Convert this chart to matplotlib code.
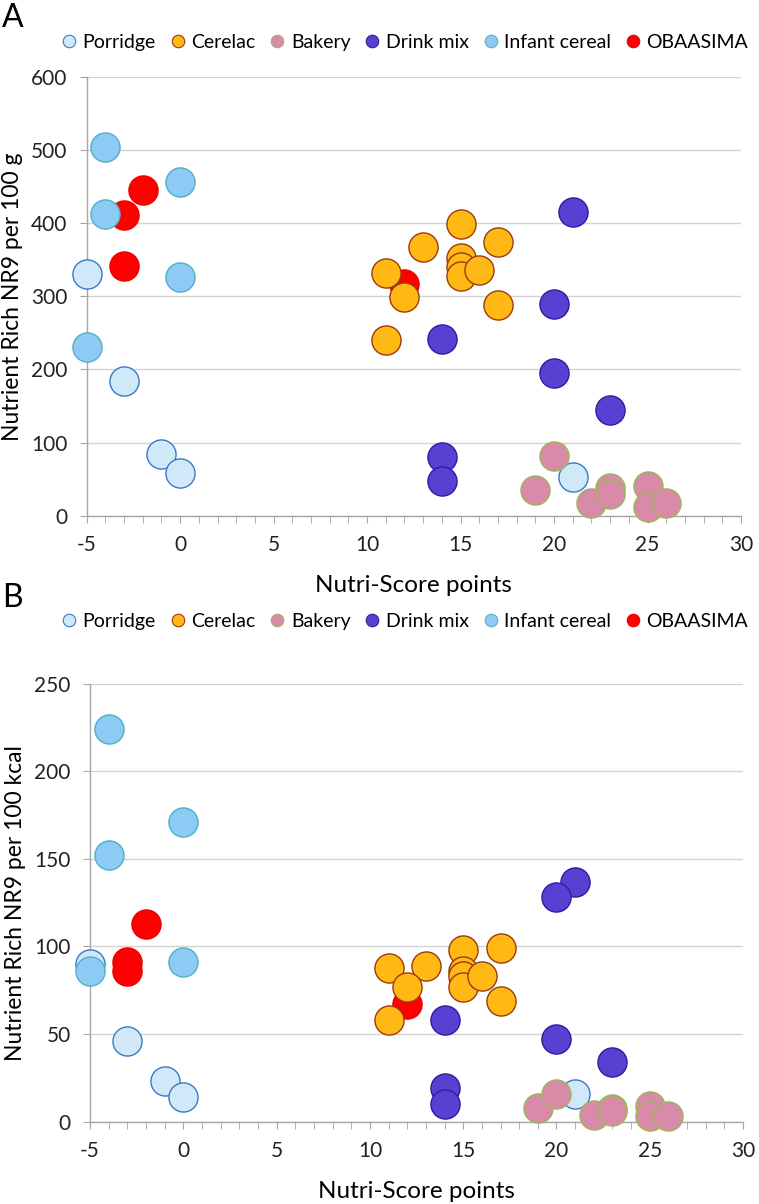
import matplotlib
matplotlib.use("Agg")
import matplotlib.pyplot as plt
from matplotlib.ticker import MultipleLocator

plt.rcParams['font.family'] = ['Lato', 'DejaVu Sans']
plt.rcParams['axes.unicode_minus'] = False

categories = ["Porridge", "Cerelac", "Bakery", "Drink mix", "Infant cereal", "OBAASIMA"]

# Nutri-Score points (shared by both panels)
porridge_x = [-5, -3, -1, 0, 21]
cerelac_x = [15, 13, 17, 11, 15, 15, 15, 16, 12, 17, 11]
bakery_x = [19, 20, 22, 23, 23, 25, 25, 26]
drink_x = [21, 20, 14, 20, 23, 14, 14]
infant_x = [-4, 0, -4, 0, -5]
obaasima_x = [-2, -3, -3, 12]

# Panel A: NR9 per 100 g
porridge_a = [331, 184, 84, 59, 53]
cerelac_a = [399, 367, 374, 332, 352, 340, 328, 336, 299, 288, 240]
bakery_a = [35, 82, 18, 38, 29, 40, 12, 17]
drink_a = [415, 290, 241, 195, 145, 80, 48]
infant_a = [505, 457, 413, 327, 231]
obaasima_a = [446, 411, 341, 317]

# Panel B: NR9 per 100 kcal
porridge_b = [90, 46, 23, 14, 16]
cerelac_b = [98, 89, 99, 88, 86, 83, 77, 83, 77, 69, 58]
bakery_b = [8, 16, 4, 7, 6, 9, 3, 3]
drink_b = [137, 128, 58, 47, 34, 19, 10]
infant_b = [224, 171, 152, 91, 86]
obaasima_b = [113, 91, 86, 67]

styles = {
    "Porridge": dict(fc="#CFE9F8", ec="#3A78C8", z=3),
    "Cerelac": dict(fc="#FFB814", ec="#9C3A0C", z=4),
    "Bakery": dict(fc="#DA8AA9", ec="#9DB65A", z=5),
    "Drink mix": dict(fc="#5A40D2", ec="#2A1E9E", z=6),
    "Infant cereal": dict(fc="#8ECBF4", ec="#4FB0C8", z=7),
    "OBAASIMA": dict(fc="#FF0000", ec="#F00000", z=2),
}

fig = plt.figure(figsize=(7.59, 12.04), dpi=100)
axA = fig.add_axes([0.1142, 0.5717, 0.8621, 0.3643])
axB = fig.add_axes([0.1186, 0.0684, 0.8604, 0.3637])

def draw(ax, xs, ys, ymax, ystep, ylabel):
    for name, x, y in zip(categories, xs, ys):
        st = styles[name]
        ax.scatter(x, y, s=440, facecolor=st["fc"], edgecolor=st["ec"],
                   linewidth=1.0, zorder=st["z"], clip_on=False, label=name)
    ax.set_xlim(-5, 30)
    ax.set_ylim(0, ymax)
    ax.xaxis.set_major_locator(MultipleLocator(5))
    ax.xaxis.set_minor_locator(MultipleLocator(1))
    ax.yaxis.set_major_locator(MultipleLocator(ystep))
    for s in ["top", "right"]:
        ax.spines[s].set_visible(False)
    for s in ["left", "bottom"]:
        ax.spines[s].set_color("#A6A6A6")
        ax.spines[s].set_linewidth(1.0)
    ax.grid(axis="y", color="#D3D3D3", linewidth=1.0, zorder=0)
    ax.set_axisbelow(True)
    ax.tick_params(axis="both", which="both", direction="out", color="#A6A6A6",
                   labelsize=15, labelcolor="#222222")
    ax.tick_params(axis="x", which="major", length=5, pad=9)
    ax.tick_params(axis="x", which="minor", length=5)
    ax.tick_params(axis="y", length=5, pad=9)
    ax.set_xlabel("Nutri-Score points", fontsize=17.5, labelpad=14)
    ax.set_ylabel(ylabel, fontsize=16.5, labelpad=6)

draw(axA,
     [porridge_x, cerelac_x, bakery_x, drink_x, infant_x, obaasima_x],
     [porridge_a, cerelac_a, bakery_a, drink_a, infant_a, obaasima_a],
     600, 100, "Nutrient Rich NR9 per 100 g")
draw(axB,
     [porridge_x, cerelac_x, bakery_x, drink_x, infant_x, obaasima_x],
     [porridge_b, cerelac_b, bakery_b, drink_b, infant_b, obaasima_b],
     250, 50, "Nutrient Rich NR9 per 100 kcal")

for ax, yleg in [(axA, 0.965), (axB, 0.484)]:
    handles = []
    for name in categories:
        st = styles[name]
        h = plt.Line2D([], [], marker="o", linestyle="none", markersize=9,
                       markerfacecolor=st["fc"], markeredgecolor=st["ec"],
                       markeredgewidth=0.8)
        handles.append(h)
    fig.legend(handles, categories, loc="center", bbox_to_anchor=(0.532, yleg),
               ncol=6, frameon=False, fontsize=14, handletextpad=0.2,
               columnspacing=0.62, handlelength=1.0, borderpad=0.1,
               borderaxespad=0.0)

fig.text(0.003, 0.985, "A", fontsize=23, va="center", ha="left")
fig.text(0.003, 0.503, "B", fontsize=23, va="center", ha="left")

fig.savefig("out.png", dpi=100)
